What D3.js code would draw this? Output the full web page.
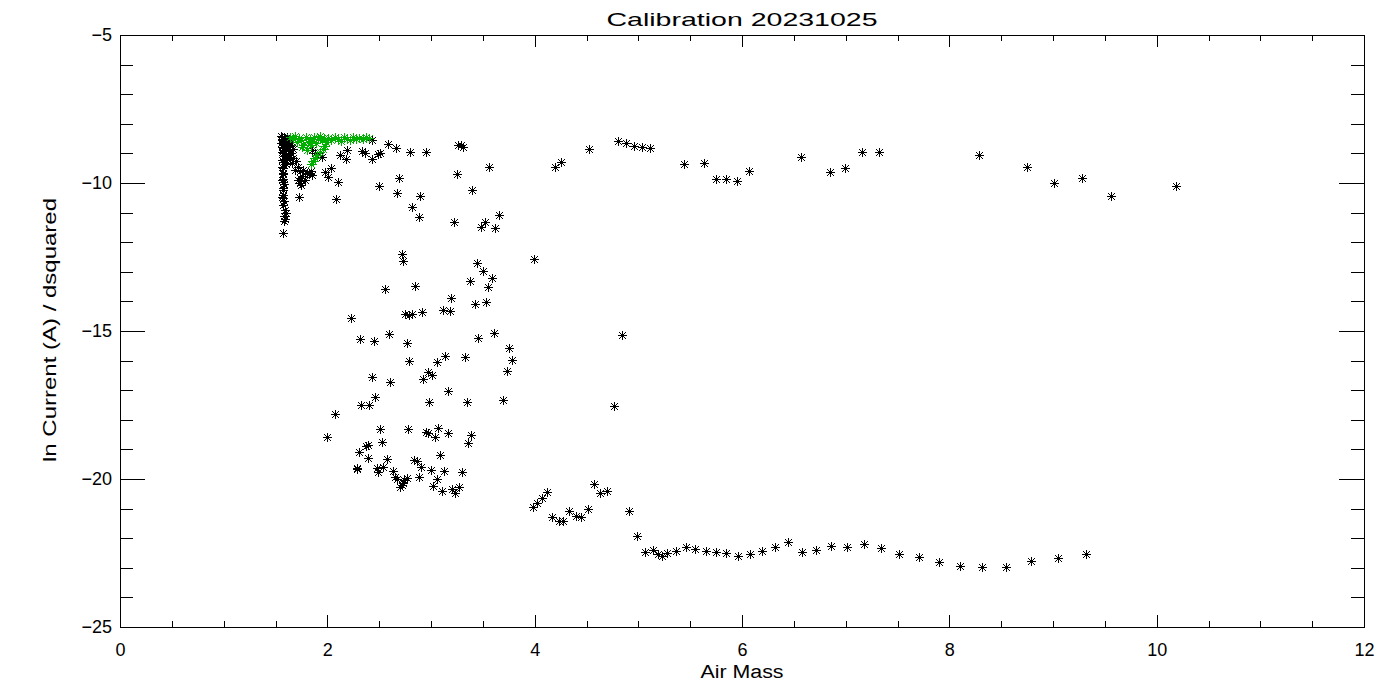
<!DOCTYPE html>
<html><head><meta charset="utf-8">
<script src="https://cdn.jsdelivr.net/npm/d3@7"></script>
<style>
body{margin:0;background:#fff;}
svg{display:block;}
text{font-family:"Liberation Sans","DejaVu Sans",sans-serif;fill:#000;}
</style></head>
<body>
<svg id="chart" width="1400" height="700"></svg>
<script>
const titleText = "Calibration  20231025";
const xLabel = "Air Mass";
const yLabel = "ln Current (A) / dsquared";
const xMajorTicks = [0, 2, 4, 6, 8, 10, 12];
const yMajorTicks = [-25, -20, -15, -10, -5];

// black series: air mass
const airMassBlack = [
 1.55,1.58,1.61,1.64,1.56,1.59,1.62,1.66,1.55,1.58,1.61,1.64,1.57,1.60,1.63,1.67,1.56,1.59,1.62,1.65,1.58,1.61,1.64,1.57,1.60,
 1.70,1.72,1.74,1.76,1.78,1.77,1.82,1.84,1.72,1.74,1.57,1.57,1.57,1.58,1.57,1.57,1.58,1.57,1.59,1.60,1.58,1.59,1.58,1.57,1.57,1.57,
 1.56,1.57,1.56,1.57,1.56,1.56,1.57,1.56,1.57,1.56,
 1.62,1.64,1.67,1.66,1.69,1.80,1.85,1.75,1.74,1.73,1.85,1.88,1.95,1.98,2.01,2.04,2.08,2.10,2.12,2.18,2.19,
 2.33,2.36,2.43,2.49,2.51,2.43,2.59,2.66,2.80,2.95,3.26,3.29,3.31,3.25,3.22,2.69,2.50,2.67,2.89,2.82,2.88,
 3.395,3.56,3.48,3.52,3.62,3.656,
 2.717,2.733,3.994,3.447,3.498,3.585,3.553,3.376,2.559,2.846,3.193,3.428,3.530,2.749,2.813,2.79,2.916,3.112,3.183,2.231,
 3.604,3.457,2.318,2.453,2.592,2.771,3.755,3.784,3.331,3.138,3.061,2.791,3.733,2.968,3.013,2.926,2.434,2.608,3.167,2.463,
 2.325,2.402,2.984,3.350,3.698,2.077,1.997,2.511,2.782,2.949,2.968,3.071,3.039,3.161,3.389,3.360,2.530,2.373,2.396,2.305,
 2.392,2.579,3.090,2.839,2.861,2.907,2.283,2.289,2.476,2.534,2.630,2.485,3.003,3.129,3.302,2.888,3.055,2.653,2.675,2.740,
 2.765,2.717,2.701,2.733,3.016,3.103,3.206,3.232,3.273,
 4.196,4.254,4.524,4.801,4.881,4.958,5.032,5.109,5.440,5.636,5.746,5.849,5.955,6.068,6.566,6.852,6.997,7.16,7.32,
 8.289,8.748,9.012,9.283,9.559,10.186,
 3.981,4.019,4.074,4.122,4.170,4.235,4.277,4.334,4.399,4.447,4.511,4.575,4.630,4.701,4.913,4.990,5.064,5.145,5.186,5.225,
 5.273,5.363,5.457,5.550,5.650,5.749,5.849,5.965,6.077,6.196,6.318,6.441,6.582,6.710,
 6.858,7.016,7.18,7.341,7.515,7.711,7.904,8.103,8.315,8.546,8.787,9.045,9.318,
 4.84,4.765
];
// black series: ln current
const lnCurrentBlack = [
 -8.42,-8.45,-8.43,-8.47,-8.52,-8.58,-8.55,-8.60,-8.65,-8.70,-8.68,-8.75,-8.82,-8.86,-8.80,-8.85,-8.95,-9.00,-9.05,-8.97,-9.10,-9.18,-9.12,-9.30,-9.35,
 -9.25,-9.45,-9.60,-9.75,-9.90,-9.55,-9.70,-9.60,-9.90,-10.00,-9.50,-9.70,-9.85,-10.05,-10.25,-10.40,-10.60,-10.75,-10.90,-11.00,-11.10,-11.20,-11.28,-11.70,-9.95,-10.50,
 -8.45,-8.55,-8.77,-8.99,-9.22,-9.45,-9.66,-9.90,-10.18,-10.46,
 -8.89,-9.00,-9.17,-9.33,-9.56,-9.67,-9.73,-10.07,-9.84,-10.47,-8.88,-9.00,-9.11,-9.62,-9.79,-9.48,-10.54,-9.98,-9.05,-9.20,-8.88,
 -8.91,-9.00,-9.19,-9.03,-8.98,-8.55,-8.68,-8.83,-8.94,-8.96,-8.72,-8.72,-8.78,-9.70,-11.32,-9.83,-10.10,-10.34,-10.44,-10.80,-11.14,
 -10.24,-9.46,-11.49,-11.32,-11.52,-11.08,
 -12.40,-12.62,-12.58,-12.71,-12.96,-13.22,-13.52,-13.30,-13.59,-13.48,-13.90,-14.09,-14.02,-14.43,-14.43,-14.46,-14.37,-14.29,-14.32,-14.57,
 -15.06,-15.24,-15.28,-15.35,-15.10,-15.42,-15.58,-15.98,-15.88,-15.85,-16.04,-16.01,-16.36,-16.37,-16.48,-16.63,-16.55,-16.71,-17.04,-17.24,
 -17.50,-17.50,-17.39,-17.39,-17.34,-17.80,-18.59,-18.32,-18.32,-18.42,-18.46,-18.29,-18.57,-18.46,-18.51,-18.77,-18.76,-18.89,-18.85,-19.08,
 -19.29,-19.31,-19.20,-19.36,-19.38,-19.58,-19.62,-19.66,-19.64,-19.60,-19.72,-19.75,-19.70,-19.72,-19.77,-19.92,-20.01,-19.94,-20.01,-20.03,
 -19.98,-20.20,-20.28,-20.15,-20.24,-20.41,-20.35,-20.48,-20.28,
 -9.45,-9.30,-8.86,-8.58,-8.66,-8.75,-8.79,-8.83,-9.37,-9.33,-9.88,-9.88,-9.93,-9.59,-9.13,-9.63,-9.50,-8.96,-8.96,
 -9.05,-9.47,-9.99,-9.84,-10.44,-10.10,
 -20.96,-20.82,-20.63,-20.43,-21.29,-21.42,-21.42,-21.07,-21.25,-21.27,-21.02,-20.17,-20.48,-20.39,-21.08,-21.91,-22.45,-22.40,-22.53,-22.60,
 -22.49,-22.42,-22.31,-22.35,-22.43,-22.47,-22.49,-22.59,-22.54,-22.42,-22.31,-22.14,-22.48,-22.40,
 -22.26,-22.29,-22.21,-22.34,-22.53,-22.65,-22.81,-22.93,-22.98,-22.98,-22.78,-22.68,-22.53,
 -15.14,-17.53
];
// green series
const airMassGreen = [
 1.64,1.67,1.69,1.71,1.73,1.75,1.77,1.79,1.81,1.83,1.85,1.87,1.89,1.91,1.93,1.95,1.97,1.99,2.01,2.04,2.07,2.10,2.13,2.16,2.19,
 2.22,2.25,2.28,2.31,2.34,2.37,2.40,1.98,1.96,1.93,1.90,1.88,1.86,1.84,1.76,1.80,1.84
];
const lnCurrentGreen = [
 -8.45,-8.52,-8.42,-8.60,-8.48,-8.55,-8.70,-8.45,-8.62,-8.50,-8.58,-8.44,-8.65,-8.50,-8.42,-8.56,-8.48,-8.62,-8.47,-8.55,-8.43,-8.52,-8.58,-8.45,-8.50,
 -8.55,-8.44,-8.52,-8.47,-8.50,-8.45,-8.48,-8.75,-8.85,-8.95,-9.05,-9.15,-9.25,-9.35,-8.80,-8.90,-8.72
];

const svg = d3.select("#chart");
const pLeft = 120, pRight = 1364, pTop = 35, pBottom = 627;
const x = d3.scaleLinear().domain([0, 12]).range([pLeft, pRight]);
const y = d3.scaleLinear().domain([-25, -5]).range([pBottom, pTop]);

const fmt = d => (d < 0 ? "\u2212" + Math.abs(d) : String(d));
const xMinor = d3.range(0, 12.01, 0.5).filter(v => !xMajorTicks.includes(v));
const yMinor = d3.range(-25, -4.99, 1).filter(v => !yMajorTicks.includes(v));

function styleAxis(g) {
  g.select(".domain").remove();
  g.selectAll("line").attr("stroke", "#000").attr("shape-rendering", "crispEdges");
  g.selectAll("text").attr("font-size", 18).attr("font-family", "Liberation Sans, DejaVu Sans, sans-serif").attr("fill", "#000");
}

// bottom
svg.append("g").attr("transform", `translate(0,${pBottom})`)
  .call(d3.axisBottom(x).tickValues(xMajorTicks).tickSize(-12).tickSizeOuter(0).tickPadding(16).tickFormat(fmt)).call(styleAxis);
svg.append("g").attr("transform", `translate(0,${pBottom})`)
  .call(d3.axisBottom(x).tickValues(xMinor).tickSize(-6).tickSizeOuter(0).tickFormat("")).call(styleAxis);
// top
svg.append("g").attr("transform", `translate(0,${pTop})`)
  .call(d3.axisTop(x).tickValues(xMajorTicks).tickSize(-12).tickSizeOuter(0).tickFormat("")).call(styleAxis);
svg.append("g").attr("transform", `translate(0,${pTop})`)
  .call(d3.axisTop(x).tickValues(xMinor).tickSize(-6).tickSizeOuter(0).tickFormat("")).call(styleAxis);
// left
svg.append("g").attr("transform", `translate(${pLeft},0)`)
  .call(d3.axisLeft(y).tickValues(yMajorTicks).tickSize(-25).tickSizeOuter(0).tickPadding(8).tickFormat(fmt)).call(styleAxis);
svg.append("g").attr("transform", `translate(${pLeft},0)`)
  .call(d3.axisLeft(y).tickValues(yMinor).tickSize(-13).tickSizeOuter(0).tickFormat("")).call(styleAxis);
// right
svg.append("g").attr("transform", `translate(${pRight},0)`)
  .call(d3.axisRight(y).tickValues(yMajorTicks).tickSize(-25).tickSizeOuter(0).tickFormat("")).call(styleAxis);
svg.append("g").attr("transform", `translate(${pRight},0)`)
  .call(d3.axisRight(y).tickValues(yMinor).tickSize(-13).tickSizeOuter(0).tickFormat("")).call(styleAxis);

// frame
svg.append("rect").attr("x", pLeft + 0.5).attr("y", pTop + 0.5)
  .attr("width", pRight - pLeft).attr("height", pBottom - pTop)
  .attr("fill", "none").attr("stroke", "#000").attr("stroke-width", 1).attr("shape-rendering", "crispEdges");

// asterisk marker
function star(px, py) {
  const a = 4.5, b = 3.5;
  return `M${px - a},${py}L${px + a},${py}M${px},${py - a}L${px},${py + a}` +
         `M${px - b},${py - b}L${px + b},${py + b}M${px - b},${py + b}L${px + b},${py - b}`;
}
function drawSeries(xs, ys, color) {
  const data = xs.map((v, i) => [v, ys[i]]);
  const g = svg.append("g");
  g.selectAll("path").data(data).join("path")
    .attr("d", d => star(Math.round(x(d[0])) + 0.5, Math.round(y(d[1])) + 0.5))
    .attr("stroke", color).attr("stroke-width", 1).attr("fill", "none");
  g.selectAll("rect").data(data).join("rect")
    .attr("x", d => Math.round(x(d[0])) - 1).attr("y", d => Math.round(y(d[1])) - 1)
    .attr("width", 3).attr("height", 3).attr("fill", color);
}
drawSeries(airMassBlack, lnCurrentBlack, "#000");
drawSeries(airMassGreen, lnCurrentGreen, "#00b000");

// labels
svg.append("text").attr("x", 742).attr("y", 26).attr("text-anchor", "middle")
  .attr("font-size", 19).attr("textLength", 271).attr("lengthAdjust", "spacingAndGlyphs").text(titleText);
svg.append("text").attr("x", 742).attr("y", 678).attr("text-anchor", "middle")
  .attr("font-size", 18).attr("textLength", 83).attr("lengthAdjust", "spacingAndGlyphs").text(xLabel);
svg.append("text").attr("transform", "translate(56,330) rotate(-90)").attr("text-anchor", "middle")
  .attr("font-size", 18).attr("textLength", 264).attr("lengthAdjust", "spacingAndGlyphs").text(yLabel);
</script>
</body></html>
